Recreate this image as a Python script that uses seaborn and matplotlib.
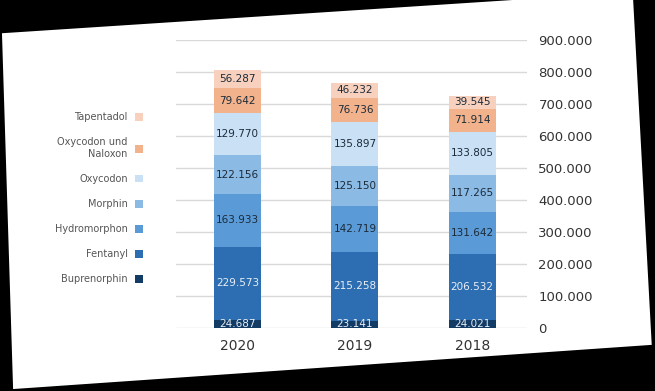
import numpy as np
import pandas as pd
import seaborn as sns
import matplotlib.pyplot as plt
from matplotlib.patches import Polygon, Patch

# Daten (Verordnungen je Wirkstoff und Jahr)
jahre = ["2020", "2019", "2018"]
wirkstoffe = ["Buprenorphin", "Fentanyl", "Hydromorphon", "Morphin",
              "Oxycodon", "Oxycodon und\nNaloxon", "Tapentadol"]
buprenorphin = [24687, 23141, 24021]
fentanyl = [229573, 215258, 206532]
hydromorphon = [163933, 142719, 131642]
morphin = [122156, 125150, 117265]
oxycodon = [129770, 135897, 133805]
oxy_naloxon = [79642, 76736, 71914]
tapentadol = [56287, 46232, 39545]

farben = ["#123b66", "#2c6eb1", "#5a9ad6", "#8bbae5", "#c9e0f5", "#f2b28c", "#f7d1bd"]
textfarben = ["#e8eef5", "#e8eef5", "#1c2b3a", "#1c2b3a", "#1c2b3a", "#1c2b3a", "#1c2b3a"]

werte = [buprenorphin, fentanyl, hydromorphon, morphin, oxycodon, oxy_naloxon, tapentadol]
df = pd.DataFrame({"Jahr": jahre})
for name, w in zip(wirkstoffe, werte):
    df[name] = w
kumuliert = df[wirkstoffe].cumsum(axis=1)


def fmt(v):
    return f"{v:,.0f}".replace(",", ".")


sns.set_style("white")
fig = plt.figure(figsize=(6.55, 3.91), dpi=100, facecolor="black")
# schraeg fotografiertes Blatt
blatt = Polygon([[0.003, 0.915], [0.966, 1.02], [0.995, 0.118], [0.02, 0.005]],
                closed=True, transform=fig.transFigure, facecolor="white",
                edgecolor="none", zorder=-5)
fig.patches.append(blatt)

ax = fig.add_axes([0.268, 0.161, 0.537, 0.737])
ax.set_facecolor("none")
ax.set_zorder(2)

# gestapelte Balken: von oben nach unten uebereinander zeichnen
for i in range(len(wirkstoffe) - 1, -1, -1):
    sns.barplot(x=df["Jahr"], y=kumuliert[wirkstoffe[i]], order=jahre,
                color=farben[i], width=0.4, saturation=1, ax=ax, zorder=3,
                linewidth=0, edgecolor="none")

# Werte in die Segmente schreiben
for j, jahr in enumerate(jahre):
    unten = 0
    for i, name in enumerate(wirkstoffe):
        v = df.loc[j, name]
        ax.text(j, unten + v / 2, fmt(v), ha="center", va="center",
                fontsize=7.5, color=textfarben[i], zorder=5)
        unten += v

ax.set_ylim(0, 900000)
ax.set_xlim(-0.53, 2.47)
ax.set_yticks(np.arange(0, 900001, 100000))
ax.set_yticklabels([fmt(t) for t in np.arange(0, 900001, 100000)])
ax.yaxis.tick_right()
ax.grid(axis="y", color="#d9d9d9", linewidth=1, zorder=0)
ax.set_axisbelow(True)
ax.tick_params(axis="y", length=0, pad=8, labelsize=9.5, labelcolor="#333333")
ax.tick_params(axis="x", length=0, pad=8, labelsize=10, labelcolor="#333333")
ax.set_xlabel("")
ax.set_ylabel("")
sns.despine(ax=ax, left=True, right=True, top=True, bottom=True)

handles = [Patch(facecolor=farben[i], edgecolor="none") for i in range(len(wirkstoffe))][::-1]
leg = fig.legend(handles, wirkstoffe[::-1], loc="upper right", bbox_to_anchor=(0.232, 0.735),
                 frameon=False, markerfirst=False, fontsize=7, labelcolor="#555555",
                 handlelength=0.8, handleheight=0.8, labelspacing=1.55, alignment="right")
for t in leg.get_texts():
    t.set_multialignment("right")

fig.savefig("out.png", dpi=100, facecolor="black")
